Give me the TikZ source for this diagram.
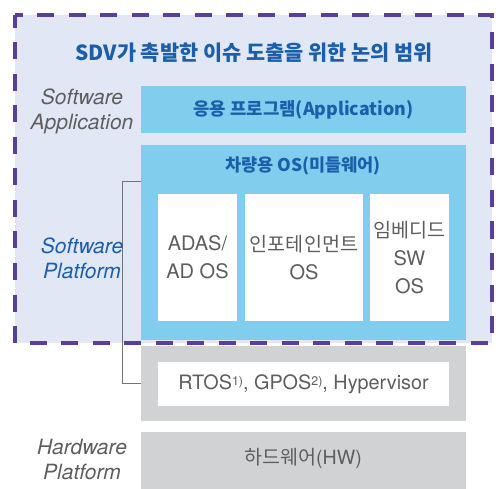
\documentclass[tikz,border=0pt]{standalone}
\usepackage{fontspec}
\setmainfont{Noto Sans CJK KR}
\newfontfamily\latinf{TeX Gyre Heros}
\definecolor{bgblue}{HTML}{E1E7F5}
\definecolor{sky}{HTML}{80CDEE}
\definecolor{lgray}{HTML}{D1D2D4}
\definecolor{dpurple}{HTML}{5A3E9A}
\definecolor{tblue}{HTML}{1B5FAA}
\definecolor{tgray}{HTML}{5E5E5E}
\newcommand{\supnote}[1]{\raisebox{3.5pt}{\fontsize{12.5}{12}\selectfont #1}}
\begin{document}
\begin{tikzpicture}[x=1pt,y=-1pt,
  blk/.style={inner sep=0pt, outer sep=0pt, anchor=north west, draw=none},
  skybox/.style={blk, fill=sky},
  wbox/.style={blk, fill=white},
  gbox/.style={blk, fill=lgray},
  boxtext/.style={text=tgray, font=\latinf\fontsize{20}{28}\selectfont, align=center},
  krtext/.style={text=tgray, font=\fontsize{19.6}{28}\selectfont, align=center},
  sidelabel/.style={font=\latinf\itshape\fontsize{21}{25}\selectfont, align=center},
  titletext/.style={text=tblue, font=\bfseries\fontsize{20.8}{22}\selectfont},
  bracket/.style={draw=gray!90!black, line width=1pt},
  dashborder/.style={draw=dpurple, line width=4.3pt, dash pattern=on 17pt off 14.5pt, dash phase=4pt}
]
\useasboundingbox (0,0) rectangle (498,489);
% region
\node[blk, fill=bgblue, minimum width=477pt, minimum height=328pt] (region) at (15,15) {};
% application
\node[skybox, minimum width=325pt, minimum height=47pt] (app) at (141,86) {};
\node[titletext, font=\fontsize{17.8}{20}\selectfont\bfseries] (apptxt) at (app.center) {응용 프로그램(Application)};
% OS
\node[skybox, minimum width=325pt, minimum height=195pt] (os) at (141,145) {};
\node[titletext, font=\fontsize{17.5}{20}\selectfont\bfseries] (ostxt) at (303,166) {차량용 OS(미들웨어)};
\node[wbox, minimum width=79pt, minimum height=127pt] (adas) at (158,194) {};
\node[wbox, minimum width=118pt, minimum height=127pt] (info) at (245,194) {};
\node[wbox, minimum width=79pt, minimum height=127pt] (emb) at (370,194) {};
\node[boxtext] (adastxt) at (adas.center) {ADAS/\\AD OS};
\node[krtext] (infotxt) at (info.center) {인포테인먼트\\{\latinf\fontsize{20}{28}\selectfont OS}};
\node[krtext] (embtxt) at (emb.center) {임베디드\\{\latinf\fontsize{20}{28}\selectfont SW}\\{\latinf\fontsize{20}{28}\selectfont OS}};
% RTOS
\node[gbox, minimum width=325pt, minimum height=75pt] (rt) at (141,346) {};
\node[wbox, minimum width=291pt, minimum height=44pt] (rtw) at (158,362) {};
\node[boxtext, font=\latinf\fontsize{19.8}{24}\selectfont] (rttxt) at (rtw.center) {RTOS\supnote{1)}, GPOS\supnote{2)}, Hypervisor};
% hardware
\node[gbox, minimum width=325pt, minimum height=60pt] (hw) at (141,432) {};
\node[krtext] (hwtxt) at (303,458) {하드웨어{\latinf(HW)}};
% bracket
\coordinate (b1) at (122,182);
\coordinate (b2) at (122,383);
\draw[bracket] (os.west |- b1) -- (b1) -- (b2) -- (rt.west |- b2);
% dashed border
\draw[dashborder] (region.north west) rectangle (region.south east);
% title
\node[titletext] (title) at (254,53) {SDV가 촉발한 이슈 도출을 위한 논의 범위};
% side labels
\node[sidelabel, text=tgray] (lapp) at (82,111) {Software\\Application};
\node[sidelabel, text=tblue] (lplat) at (82,258) {Software\\Platform};
\node[sidelabel, text=tgray] (lhw) at (82,460) {Hardware\\Platform};
\end{tikzpicture}
\end{document}
